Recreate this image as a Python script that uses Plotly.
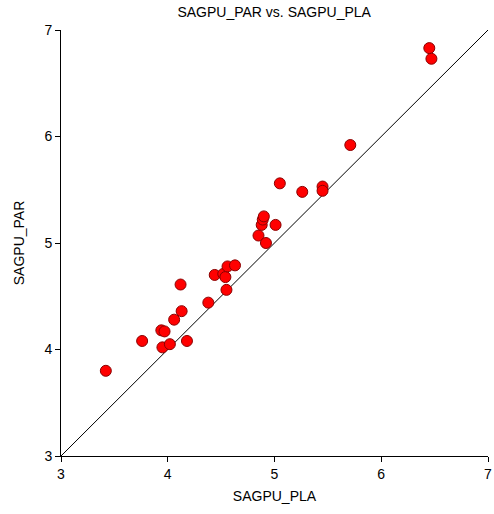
import plotly.graph_objects as go

sagpu_pla = [3.42, 3.76, 3.94, 3.97, 3.95, 4.02, 4.18, 4.06, 4.13, 4.12,
             4.38, 4.44, 4.52, 4.54, 4.56, 4.63, 4.55, 4.85, 4.92, 4.88,
             4.89, 4.90, 5.01, 5.05, 5.26, 5.45, 5.45, 5.71, 6.45, 6.47]
sagpu_par = [3.80, 4.08, 4.18, 4.17, 4.02, 4.05, 4.08, 4.28, 4.36, 4.61,
             4.44, 4.70, 4.71, 4.68, 4.78, 4.79, 4.56, 5.07, 5.00, 5.17,
             5.22, 5.25, 5.17, 5.56, 5.48, 5.53, 5.49, 5.92, 6.83, 6.73]
identity_line = [3, 7]
tick_vals = [3, 4, 5, 6, 7]

fig = go.Figure()
fig.add_trace(go.Scatter(x=identity_line, y=identity_line, mode="lines",
                         line=dict(color="black", width=1), hoverinfo="skip",
                         showlegend=False, cliponaxis=False))
fig.add_trace(go.Scatter(x=sagpu_pla, y=sagpu_par, mode="markers",
                         marker=dict(size=11, color="#ff0000",
                                     line=dict(color="#8b0000", width=1)),
                         showlegend=False, cliponaxis=False))

axis_common = dict(range=[3, 7], tickvals=tick_vals, showgrid=False, zeroline=False,
                   showline=True, linecolor="black", linewidth=1, ticks="outside",
                   ticklen=5, tickcolor="black", tickfont=dict(size=14, color="black"),
                   mirror=False, automargin=False, ticklabeloverflow="allow")
fig.update_layout(
    width=494, height=514,
    margin=dict(l=61, r=6, t=30, b=58),
    paper_bgcolor="white", plot_bgcolor="white",
    font=dict(family="Liberation Sans, Arial, sans-serif", color="black", size=14),
    title=dict(text="SAGPU_PAR vs. SAGPU_PLA", x=0.555, xanchor="center", y=0.976,
               yanchor="middle", font=dict(size=14, color="black")),
    xaxis=dict(title=dict(text="SAGPU_PLA", font=dict(size=14), standoff=10), **axis_common),
    yaxis=dict(title=dict(text="SAGPU_PAR", font=dict(size=14), standoff=16), **axis_common),
)
fig.write_html("out.html", config={"displayModeBar": False},
               post_script="document.body.style.margin='0';document.body.style.overflow='hidden';")
